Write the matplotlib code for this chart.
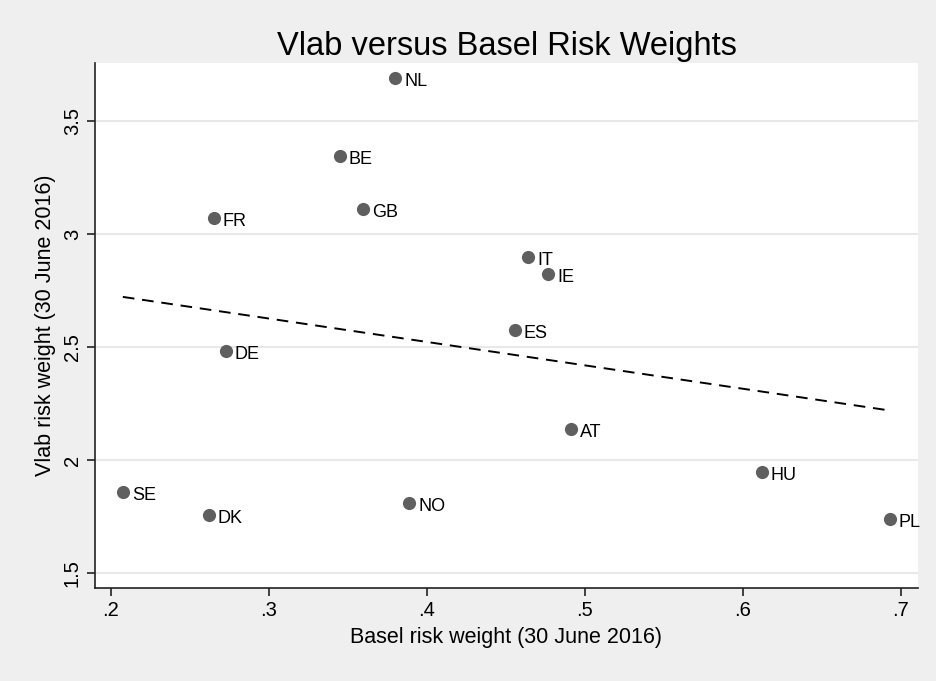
import numpy as np
import matplotlib
matplotlib.use("Agg")
import matplotlib.pyplot as plt

plt.rcParams['font.family'] = ['Liberation Sans', 'DejaVu Sans']

countries = ['NL', 'BE', 'GB', 'FR', 'IT', 'IE', 'ES', 'DE', 'AT', 'HU', 'SE', 'DK', 'NO', 'PL']
basel_rw = [0.380, 0.345, 0.3595, 0.265, 0.464, 0.4766, 0.4557, 0.2728, 0.491, 0.612, 0.2076, 0.262, 0.389, 0.693]
vlab_rw = [3.69, 3.345, 3.11, 3.071, 2.898, 2.823, 2.575, 2.482, 2.137, 1.947, 1.858, 1.757, 1.81, 1.739]

x_ticks = [0.2, 0.3, 0.4, 0.5, 0.6, 0.7]
x_ticklabels = ['.2', '.3', '.4', '.5', '.6', '.7']
y_ticks = [1.5, 2, 2.5, 3, 3.5]
y_ticklabels = ['1.5', '2', '2.5', '3', '3.5']

fig = plt.figure(figsize=(9.37, 6.81), dpi=100, facecolor='#efefef')
ax = fig.add_axes([0.1014, 0.1366, 0.8783, 0.7709])
ax.set_facecolor('white')

# linear fit
slope, intercept = np.polyfit(basel_rw, vlab_rw, 1)
xs = np.array([min(basel_rw), max(basel_rw)])
ax.plot(xs, intercept + slope * xs, linestyle=(0, (6, 4)), color='black', lw=1.4, zorder=2)

ax.scatter(basel_rw, vlab_rw, s=90, color='#5f5f5f', zorder=3, linewidths=0)
for c, x, y in zip(countries, basel_rw, vlab_rw):
    ax.annotate(c, (x, y), xytext=(6.5, -2.5), textcoords='offset points',
                fontsize=13, va='center', ha='left', annotation_clip=False)

ax.set_xlim(0.19, 0.7108)
ax.set_ylim(1.434, 3.757)
ax.set_xticks(x_ticks)
ax.set_xticklabels(x_ticklabels, fontsize=14.5)
ax.set_yticks(y_ticks)
ax.set_yticklabels(y_ticklabels, fontsize=14.5, rotation=90, va='center')
ax.tick_params(direction='out', length=6, width=1.2, color='#222222')

ax.grid(axis='y', color='#e8e8e8', lw=1.5)
ax.set_axisbelow(True)
for s in ['top', 'right']:
    ax.spines[s].set_visible(False)
for s in ['left', 'bottom']:
    ax.spines[s].set_linewidth(1.2)
    ax.spines[s].set_color('#222222')

ax.set_xlabel('Basel risk weight (30 June 2016)', fontsize=15.5, labelpad=5)
ax.set_ylabel('Vlab risk weight (30 June 2016)', fontsize=15.5, labelpad=5)
ax.set_title('Vlab versus Basel Risk Weights', fontsize=23.5, pad=6)

fig.savefig('out.png', dpi=100, facecolor=fig.get_facecolor())
